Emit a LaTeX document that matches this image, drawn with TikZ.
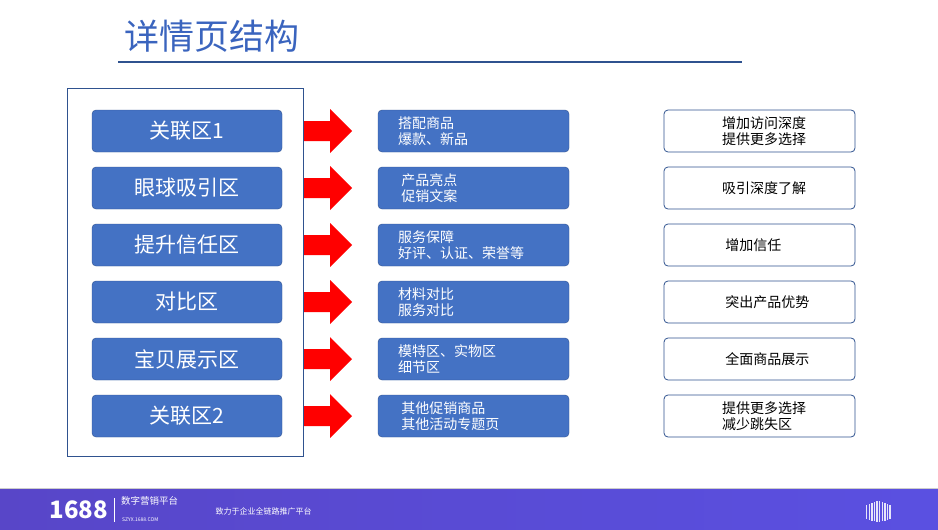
\documentclass[tikz,border=0pt]{standalone}
\usepackage{fontspec}
\setmainfont{Noto Sans CJK SC}
\usetikzlibrary{positioning}
\definecolor{boxblue}{RGB}{68,114,196}
\definecolor{edgeblue}{RGB}{47,82,143}
\definecolor{titleblue}{RGB}{58,100,190}
\definecolor{bandleft}{RGB}{88,70,200}
\definecolor{bandright}{RGB}{90,80,225}
\tikzset{
  zone/.style={draw=edgeblue,fill=boxblue,rounded corners=4pt,minimum width=190pt,minimum height=42pt,text=white,font=\fontsize{21}{23}\selectfont,inner sep=0pt},
  detail/.style={draw=edgeblue,fill=boxblue,rounded corners=4pt,minimum width=191pt,minimum height=42pt,inner sep=0pt},
  goal/.style={draw=edgeblue,line width=0.8pt,fill=white,rounded corners=4pt,minimum width=191pt,minimum height=42pt,inner sep=0pt},
  small/.style={font=\fontsize{14}{16}\selectfont,align=left,inner sep=0pt}
}
\begin{document}
\begin{tikzpicture}[x=1pt,y=-1pt]
\useasboundingbox (0,0) rectangle (938,530);
% title
\node[anchor=west,text=titleblue,font=\fontsize{35}{37}\selectfont] (title) at (121,36) {详情页结构};
\draw[edgeblue,line width=1.5pt] (118,62) -- (742,62);
\draw[edgeblue] (67,88) rectangle (303,456);
% rows
\foreach \y/\zname/\ltext/\rtext [count=\i] in {
  131/关联区1/{搭配商品\\爆款、新品}/{增加访问深度\\提供更多选择},
  188/眼球吸引区/{\ 产品亮点\\\ 促销文案}/{吸引深度了解},
  245/提升信任区/{服务保障\\好评、认证、荣誉等}/{\ 增加信任},
  302/对比区/{材料对比\\服务对比}/{\ 突出产品优势},
  359/宝贝展示区/{模特区、实物区\\细节区}/{\ 全面商品展示},
  416/关联区2/{\ 其他促销商品\\\ 其他活动专题页}/{提供更多选择\\减少跳失区}}{
  \node[zone] (zone\i) at (187,\y) {\zname};
  \fill[red] (304,\y-10) -- (330,\y-10) -- (330,\y-22) -- (352,\y) -- (330,\y+22) -- (330,\y+10) -- (304,\y+10) -- cycle;
  \node[detail] (detail\i) at (473.5,\y) {};
  \node[small,text=white,anchor=west] (dtext\i) at (398,\y) {\ltext};
  \node[goal] (goal\i) at (759.5,\y) {};
  \node[small,text=black,anchor=west] (gtext\i) at (722,\y) {\rtext};
}
% footer band
\shade[left color=bandleft,right color=bandright] (0,489) rectangle (938,530);
\draw[gray!40] (0,488.5) -- (938,488.5);
\node[text=white,font=\bfseries\fontsize{24}{24}\selectfont,anchor=west] (brand) at (46,510) {1688};
\draw[white] (114,498) -- (114,522);
\node[text=white,font=\fontsize{9.5}{9.5}\selectfont,anchor=west,inner sep=0pt] (platform) at (121,501) {数字营销平台};
\node[text=white,font=\fontsize{5}{5}\selectfont,anchor=west,inner sep=0pt] (site) at (122,520) {SZYX.1688.COM};
\node[text=white,font=\itshape\fontsize{8}{8}\selectfont,anchor=west] (slogan) at (212,511) {致力于企业全链路推广平台};
\foreach \k in {0,...,9}
  \fill[white!85!bandright] (866+\k*2.6,{500+abs(\k-4.5)*1.2}) rectangle ++(1.4,{22-abs(\k-4.5)*1.8});
\end{tikzpicture}
\end{document}
